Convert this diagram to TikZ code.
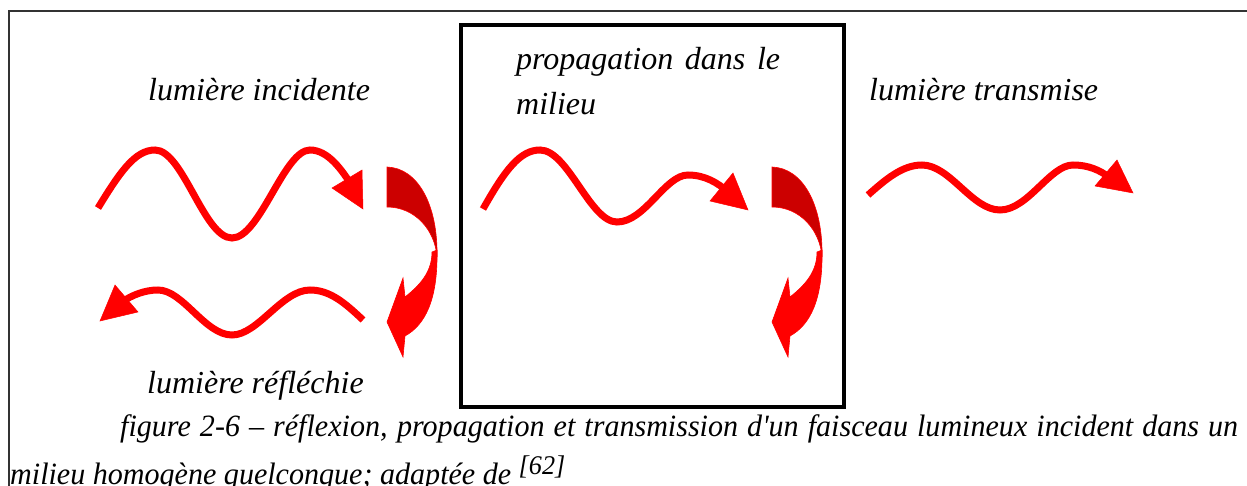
\documentclass[tikz,border=0pt]{standalone}
\usepackage{fontspec}
\setmainfont{Liberation Serif}
\newfontfamily\capfont[FakeStretch=0.97]{Liberation Serif}
\begin{document}
\begin{tikzpicture}[x=1pt,y=-1pt,
  wave/.style={draw=red,line width=7pt},
  head/.style={fill=red,draw=red,line width=0.5pt,line join=miter},
  darkpart/.style={fill=darkred,draw=red,line width=0.6pt},
  brightpart/.style={fill=red,draw=red,line width=0.6pt},
  lbl/.style={anchor=base west,inner sep=0pt,font=\fontsize{32}{38}\selectfont\itshape},
  captxt/.style={anchor=base west,inner sep=0pt,font=\capfont\fontsize{31}{37}\selectfont\itshape}]
\definecolor{darkred}{HTML}{CC0000}
\useasboundingbox (0,0) rectangle (1247,486);
\fill[white] (0,0) rectangle (1247,486);
% outer frame (cut off right and bottom)
\draw[line width=1.6pt,draw=black!80] (9,486) -- (9,11) -- (1247,11);
% medium box
\draw[line width=4pt] (461,25) rectangle (844,407);

% labels
\node[lbl] (inc) at (148,101) {lumière incidente};
\node[lbl] (ref) at (147,393) {lumière réfléchie};
\node[lbl] (tra) at (869,101) {lumière transmise};
\node[lbl] (pro1) at (516,70) {\makebox[264pt][s]{propagation dans le}};
\node[lbl] (pro2) at (516,115) {milieu};

% incident wave
\draw[wave] (98,208) .. controls (120,172) and (135,150) .. (155,150)
  .. controls (183,150) and (204,238) .. (232,238)
  .. controls (260,238) and (284,150) .. (310,150)
  .. controls (328,150) and (342,170) .. (352,186);
\filldraw[head] (332,188) -- (362,170) -- (363,209) -- cycle;

% reflected wave
\draw[wave] (363,320) .. controls (345,303) and (330,290) .. (310,290)
  .. controls (282,290) and (258,335) .. (232,335)
  .. controls (205,335) and (183,290) .. (158,290)
  .. controls (145,290) and (132,295) .. (122,302);
\filldraw[head] (115,285) -- (138,312) -- (100,321) -- cycle;

% wave in medium
\draw[wave] (483,209) .. controls (505,170) and (520,150) .. (540,150)
  .. controls (568,150) and (590,222) .. (617,222)
  .. controls (645,222) and (665,175) .. (688,175)
  .. controls (705,175) and (718,183) .. (728,192);
\filldraw[head] (733,173) -- (710,201) -- (748,210) -- cycle;

% transmitted wave
\draw[wave] (868,195) .. controls (885,180) and (902,165) .. (922,165)
  .. controls (950,165) and (972,210) .. (1000,210)
  .. controls (1028,210) and (1050,165) .. (1073,165)
  .. controls (1088,165) and (1100,170) .. (1110,178);
\filldraw[head] (1117,160) -- (1095,186) -- (1133,193) -- cycle;

% curved arrows
\foreach \dx in {0,385}{
\begin{scope}[xshift=\dx pt]
\filldraw[brightpart] (437,250) .. controls (438,300) and (425,325) .. (405,336)
  -- (403,357) -- (387,322) -- (403,278) -- (405,297)
  .. controls (420,285) and (432,272) .. (432,252) -- cycle;
\filldraw[darkpart] (387,167) .. controls (418,168) and (438,205) .. (437,257)
  .. controls (435,230) and (415,207) .. (387,207) -- cycle;
\end{scope}
}

% caption
\node[captxt] (c1) at (120,436) {\makebox[1118pt][s]{figure 2-6 – réflexion, propagation et transmission d'un faisceau lumineux incident dans un}};
\node[captxt] (c2) at (10,484) {milieu homogène quelconque; adaptée de \raisebox{10pt}{\fontsize{27}{30}\selectfont[62]}};
\end{tikzpicture}
\end{document}
